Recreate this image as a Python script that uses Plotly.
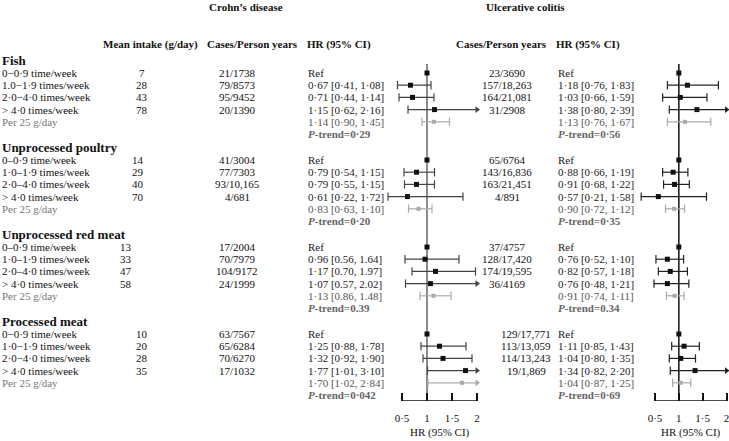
import plotly.graph_objects as go

W, H = 729, 441
FONT = "Liberation Serif, Times New Roman, Times, serif"

# ---------------- data ----------------
groups = ["Fish", "Unprocessed poultry", "Unprocessed red meat", "Processed meat"]
row_labels = [
    ["0−0·9 time/week", "1.0−1·9 times/week", "2·0−4·0 times/week", "> 4·0 times/week", "Per 25 g/day"],
    ["0–0·9 time/week", "1·0–1·9 times/week", "2·0–4·0 times/week", "> 4·0 times/week", "Per 25 g/day"],
    ["0–0·9 time/week", "1·0–1·9 times/week", "2·0–4·0 times/week", "> 4·0 times/week", "Per 25 g/day"],
    ["0−0·9 time/week", "1·0−1·9 times/week", "2·0−4·0 times/week", "> 4·0 times/week", "Per 25 g/day"],
]
mean_intake = [[7, 28, 43, 78], [14, 29, 40, 70], [13, 33, 47, 58], [10, 20, 28, 35]]

cd_cases = [["21/1738", "79/8573", "95/9452", "20/1390"],
            ["41/3004", "77/7303", "93/10,165", "4/681"],
            ["17/2004", "70/7979", "104/9172", "24/1999"],
            ["63/7567", "65/6284", "70/6270", "17/1032"]]
cd_hr = [[1, 0.67, 0.71, 1.15, 1.14], [1, 0.79, 0.79, 0.61, 0.83],
         [1, 0.96, 1.17, 1.07, 1.13], [1, 1.25, 1.32, 1.77, 1.70]]
cd_lo = [[None, 0.41, 0.44, 0.62, 0.90], [None, 0.54, 0.55, 0.22, 0.63],
         [None, 0.56, 0.70, 0.57, 0.86], [None, 0.88, 0.92, 1.01, 1.02]]
cd_hi = [[None, 1.08, 1.14, 2.16, 1.45], [None, 1.15, 1.15, 1.72, 1.10],
         [None, 1.64, 1.97, 2.02, 1.48], [None, 1.78, 1.90, 3.10, 2.84]]
cd_text = [["Ref", "0·67 [0·41, 1·08]", "0·71 [0·44, 1·14]", "1·15 [0·62, 2·16]", "1·14 [0·90, 1·45]"],
           ["Ref", "0·79 [0·54, 1·15]", "0·79 [0·55, 1·15]", "0·61 [0·22, 1·72]", "0·83 [0·63, 1·10]"],
           ["Ref", "0·96 [0.56, 1.64]", "1·17 [0.70, 1.97]", "1·07 [0.57, 2.02]", "1·13 [0.86, 1.48]"],
           ["Ref", "1·25 [0·88, 1·78]", "1·32 [0·92, 1·90]", "1·77 [1·01, 3·10]", "1·70 [1·02, 2·84]"]]
cd_ptrend = ["0·29", "0·20", "0.39", "0·042"]

uc_cases = [["23/3690", "157/18,263", "164/21,081", "31/2908"],
            ["65/6764", "143/16,836", "163/21,451", "4/891"],
            ["37/4757", "128/17,420", "174/19,595", "36/4169"],
            ["129/17,771", "113/13,059", "114/13,243", "19/1,869"]]
uc_hr = [[1, 1.18, 1.03, 1.38, 1.13], [1, 0.88, 0.91, 0.57, 0.90],
         [1, 0.76, 0.82, 0.76, 0.91], [1, 1.11, 1.04, 1.34, 1.04]]
uc_lo = [[None, 0.76, 0.66, 0.80, 0.76], [None, 0.66, 0.68, 0.21, 0.72],
         [None, 0.52, 0.57, 0.48, 0.74], [None, 0.85, 0.80, 0.82, 0.87]]
uc_hi = [[None, 1.83, 1.59, 2.39, 1.67], [None, 1.19, 1.22, 1.58, 1.12],
         [None, 1.10, 1.18, 1.21, 1.11], [None, 1.43, 1.35, 2.20, 1.25]]
uc_text = [["Ref", "1·18 [0·76, 1·83]", "1·03 [0·66, 1·59]", "1·38 [0·80, 2·39]", "1·13 [0·76, 1·67]"],
           ["Ref", "0·88 [0·66, 1·19]", "0·91 [0·68, 1·22]", "0·57 [0·21, 1·58]", "0·90 [0·72, 1·12]"],
           ["Ref", "0·76 [0·52, 1·10]", "0·82 [0·57, 1·18]", "0·76 [0·48, 1·21]", "0·91 [0·74, 1·11]"],
           ["Ref", "1·11 [0·85, 1·43]", "1·04 [0·80, 1·35]", "1·34 [0·82, 2·20]", "1·04 [0·87, 1·25]"]]
uc_ptrend = ["0·56", "0·35", "0.34", "0·69"]

tick_vals = [0.5, 1, 1.5, 2]
tick_text = ["0·5", "1", "1·5", "2"]

# ---------------- layout constants (pixels) ----------------
GROUP_TOP = 73.0     # y of first data row of first group
GROUP_STEP = 87.0
ROW_STEP = 12.2
AXIS_Y = 401.0
REF_TOP = 64.0
X_CAP = 2.0          # values beyond are drawn as arrows

intake_x = [142, 138, 126, 142]
cd_cases_x = 237
cd_hr_x = 306
uc_cases_x = [507, 507, 507, 526]
uc_hr_x = 556

# forest panels: pixel of 0.5 and 2
CD_P05, CD_P2 = 402.0, 477.0
UC_P05, UC_P2 = 655.0, 726.5
CD_RANGE = [0.1, 2.3]
UC_RANGE = [0.1, 2.05]


def dom(p05, p2, rng):
    s = (p2 - p05) / 1.5
    a = p05 + (rng[0] - 0.5) * s
    b = p05 + (rng[1] - 0.5) * s
    return [a / W, b / W]


def row_y(g, k):
    return GROUP_TOP + g * GROUP_STEP + k * ROW_STEP


fig = go.Figure()
ann = []


def txt(x, y, s, size=11, bold=False, color="#111", anchor="left"):
    if bold:
        s = "<b>" + s + "</b>"
    ann.append(dict(x=x, y=y, xref="x", yref="y", text=s, showarrow=False,
                    xanchor=anchor, yanchor="middle",
                    font=dict(family=FONT, size=size, color=color)))


# titles and headers
txt(246, 7, "Crohn’s disease", 11, True, anchor="center")
txt(525, 7, "Ulcerative colitis", 11, True, anchor="center")
txt(150, 44, "Mean intake (g/day)", 11, True, anchor="center")
txt(252, 44, "Cases/Person years", 11, True, anchor="center")
txt(305, 44, "HR (95% CI)", 11, True, anchor="left")
txt(501, 44, "Cases/Person years", 11, True, anchor="center")
txt(554, 44, "HR (95% CI)", 11, True, anchor="left")

for g, name in enumerate(groups):
    txt(0, row_y(g, 0) - 13, name, 13, True)
    for k in range(5):
        y = row_y(g, k)
        col = "#777" if k == 4 else "#111"
        txt(0, y, row_labels[g][k], 11, False, col)
        if k < 4:
            txt(intake_x[g], y, str(mean_intake[g][k]), 11, anchor="center")
            txt(cd_cases_x, y, cd_cases[g][k], 11, anchor="center")
            txt(uc_cases_x[g], y, uc_cases[g][k], 11, anchor="center")
        txt(cd_hr_x, y, cd_text[g][k], 11, color="#222" if k < 4 else "#555")
        txt(uc_hr_x, y, uc_text[g][k], 11, color="#222" if k < 4 else "#555")
    yp = row_y(g, 5)
    txt(cd_hr_x, yp, "<i>P</i>-trend=" + cd_ptrend[g], 11, True, "#666")
    txt(uc_hr_x, yp, "<i>P</i>-trend=" + uc_ptrend[g], 11, True, "#666")

# axis titles
txt((CD_P05 + CD_P2) / 2, 432, "HR (95% CI)", 11, anchor="center")
txt((UC_P05 + UC_P2) / 2, 432, "HR (95% CI)", 11, anchor="center")

# background pixel axes (for text)
fig.add_trace(go.Scatter(x=[0], y=[0], mode="markers", marker=dict(opacity=0),
                         hoverinfo="skip", showlegend=False, xaxis="x", yaxis="y"))


def forest(hr, lo, hi, xa, ya, main_line, main_sq, gray):
    sets = {"main": dict(lx=[], ly=[], cx=[], cy=[], ax=[], ay=[], sx=[], sy=[]),
            "per": dict(lx=[], ly=[], cx=[], cy=[], ax=[], ay=[], sx=[], sy=[])}
    for g in range(4):
        for k in range(5):
            y = row_y(g, k)
            d = sets["per"] if k == 4 else sets["main"]
            d["sx"].append(hr[g][k]); d["sy"].append(y)
            if lo[g][k] is None:
                continue
            right = min(hi[g][k], X_CAP)
            d["lx"] += [lo[g][k], right, None]; d["ly"] += [y, y, None]
            d["cx"].append(lo[g][k]); d["cy"].append(y)
            if hi[g][k] > X_CAP:
                d["ax"].append(X_CAP); d["ay"].append(y)
            else:
                d["cx"].append(hi[g][k]); d["cy"].append(y)
    for key, lc, sc, ss in (("main", main_line, main_sq, 5), ("per", gray, gray, 4)):
        d = sets[key]
        fig.add_trace(go.Scatter(x=d["lx"], y=d["ly"], mode="lines",
                                 line=dict(color=lc, width=1.2), xaxis=xa, yaxis=ya,
                                 showlegend=False, hoverinfo="skip"))
        fig.add_trace(go.Scatter(x=d["cx"], y=d["cy"], mode="markers", cliponaxis=False,
                                 marker=dict(symbol="line-ns", size=6,
                                             line=dict(color=lc, width=1.2)),
                                 xaxis=xa, yaxis=ya, showlegend=False, hoverinfo="skip"))
        if d["ax"]:
            fig.add_trace(go.Scatter(x=d["ax"], y=d["ay"], mode="markers", cliponaxis=False,
                                     marker=dict(symbol="triangle-right", size=6, color=lc),
                                     xaxis=xa, yaxis=ya, showlegend=False, hoverinfo="skip"))
        fig.add_trace(go.Scatter(x=d["sx"], y=d["sy"], mode="markers", cliponaxis=False,
                                 marker=dict(symbol="square", size=ss, color=sc),
                                 xaxis=xa, yaxis=ya, showlegend=False, hoverinfo="skip"))


forest(cd_hr, cd_lo, cd_hi, "x2", "y2", "#444", "#111", "#aaa")
forest(uc_hr, uc_lo, uc_hi, "x3", "y3", "#222", "#111", "#aaa")

shapes = []
for xa, ya, col, wd in (("x2", "y2", "#8c8c8c", 2), ("x3", "y3", "#111", 1.5)):
    shapes.append(dict(type="line", xref=xa, yref=ya, x0=1, x1=1, y0=REF_TOP, y1=AXIS_Y,
                       line=dict(color=col, width=wd), layer="below"))
    shapes.append(dict(type="line", xref=xa, yref=ya, x0=tick_vals[0], x1=tick_vals[-1],
                       y0=AXIS_Y, y1=AXIS_Y, line=dict(color="#111", width=1.5)))

ydom = [(H - AXIS_Y) / H, 1]
fax = dict(tickmode="array", tickvals=tick_vals, ticktext=tick_text, ticks="inside",
           ticklen=8, tickwidth=1.5, tickcolor="#111", showgrid=False, zeroline=False,
           showline=False, tickfont=dict(family=FONT, size=11, color="#111"),
           ticklabelstandoff=9, ticklabeloverflow="allow", fixedrange=True)
yax = dict(range=[AXIS_Y, 0], domain=ydom, visible=False, fixedrange=True)

fig.update_layout(
    width=W, height=H, margin=dict(l=0, r=0, t=0, b=0),
    paper_bgcolor="white", plot_bgcolor="rgba(0,0,0,0)",
    showlegend=False,
    xaxis=dict(range=[0, W], domain=[0, 1], visible=False, fixedrange=True),
    yaxis=dict(range=[H, 0], domain=[0, 1], visible=False, fixedrange=True),
    xaxis2=dict(range=CD_RANGE, domain=dom(CD_P05, CD_P2, CD_RANGE), anchor="y2", **fax),
    yaxis2=dict(anchor="x2", **yax),
    xaxis3=dict(range=UC_RANGE, domain=dom(UC_P05, UC_P2, UC_RANGE), anchor="y3", **fax),
    yaxis3=dict(anchor="x3", **yax),
    annotations=ann, shapes=shapes,
)

fig.write_html("out.html", config={"displayModeBar": False},
               post_script="document.body.style.margin='0';document.body.style.overflow='hidden';")
